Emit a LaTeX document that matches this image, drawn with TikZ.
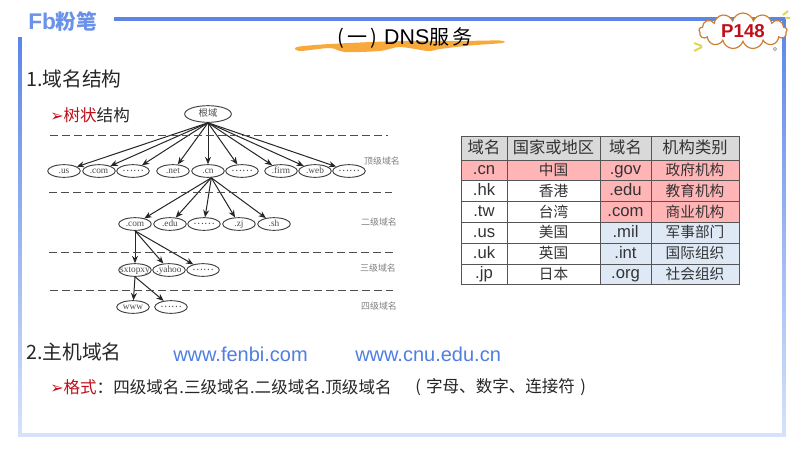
\documentclass[tikz,border=0pt]{standalone}
\usepackage{fontspec}
\setmainfont{Noto Sans CJK SC}
\newfontfamily\cjkfont{Noto Sans CJK SC}
\newfontfamily\latinfont{Liberation Sans}
\newfontfamily\treefont{Liberation Serif}
\newfontfamily\symfont{DejaVu Sans}
\usepackage{tikz}
\usetikzlibrary{arrows.meta, shapes.geometric, shapes.symbols}
\definecolor{framebluea}{HTML}{5B86E8}
\definecolor{frameblueb}{HTML}{D6E2FB}
\definecolor{brushorange}{HTML}{F7A93B}
\definecolor{headred}{HTML}{C00D1A}
\definecolor{urlblue}{HTML}{4F7FE2}
\definecolor{tabpink}{HTML}{FFB4B6}
\definecolor{tabblue}{HTML}{DFE9F5}
\definecolor{tabgray}{HTML}{D9D9D9}
\definecolor{tabline}{HTML}{555555}
\definecolor{tickyellow}{HTML}{DDD64F}
\newcommand{\fsize}[1]{\fontsize{#1}{#1}\selectfont}
\newcommand{\redmark}{{\symfont\fsize{12}\color{headred}➢}}
\tikzset{
	domainbox/.style = {ellipse, draw = black!75, line width = 0.7pt, fill = white, inner sep = 0pt, minimum width = 24.5pt, minimum height = 9.5pt, text height = 4.5pt, text depth = 1.5pt, font = \treefont\fsize{7}, text = black!70},
	treeedge/.style = {-{Stealth[length = 5.5pt, width = 4.5pt]}, draw = black!85, line width = 0.75pt},
	levelsep/.style = {draw = black!70, line width = 0.75pt, dash pattern = on 6pt off 3pt},
	levellabel/.style = {font = \fsize{6.7}, text = black!50},
	headline/.style = {anchor = west, inner sep = 0pt, font = \fsize{14.8}, text = black!85},
	subline/.style = {anchor = west, inner sep = 0pt, font = \fsize{12.4}, text = black!85},
	urltext/.style = {anchor = west, inner sep = 0pt, font = \latinfont\fsize{15}, text = urlblue},
	tabcell/.style = {font = \fsize{11}, text height = 9pt, text depth = 1.5pt, text = black!80},
	tabhead/.style = {font = \fsize{12.2}, text height = 10pt, text depth = 1.5pt, text = black!80},
	latincell/.style = {font = \latinfont\fsize{12.5}, text height = 9pt, text depth = 2.5pt, text = black!80}
}
\begin{document}
\begin{tikzpicture}[x = 0.75pt, y = -0.75pt]
		\def\dotsmark{\raisebox{0.8pt}{\cjkfont\fsize{7.5}……}};
		\useasboundingbox (0,0) rectangle (800,450);
		\fill [white] (0,0) rectangle (800,450);

		\fill [framebluea] (114,17.2) rectangle (785.5,20.8);
		\shade [top color = framebluea, bottom color = frameblueb] (18.2,37) rectangle (21.8,436);
		\shade [top color = framebluea, bottom color = frameblueb] (782.2,20) rectangle (785.8,436);
		\fill [frameblueb] (18.2,432.5) rectangle (785.8,436.5);

		\node [anchor = west, inner sep = 0pt, text = framebluea!90] (logo) at (28,22) {\latinfont\bfseries\fsize{17}Fb\cjkfont\bfseries\fsize{15.5}粉笔};

		\fill [brushorange] plot [smooth cycle] coordinates {(297,47) (330,44) (400,41) (460,41) (500,40.5) (502,43) (470,45.5) (440,49) (428,51) (400,47) (380,51) (345,52) (330,48) (300,51)};
		\node [inner sep = 0pt, font = \fsize{15}] (title) at (405,38) {(\,一\,)\,\,{\latinfont\fsize{16}DNS}服\,务};

		\node [cloud, cloud puffs = 13, cloud puff arc = 150, aspect = 3, draw = brown!80!orange, line width = 0.9pt, fill = white, inner sep = 0pt, minimum width = 66pt, minimum height = 27pt] (badge) at (743,31) {};
		\node [inner sep = 0pt, font = \latinfont\bfseries\fsize{14}, text = headred] (pagenum) at (743,31) {P148};
		\draw [tickyellow, line width = 1.4pt] (694,43) -- (702,46) (694,51) -- (702,47) (783,15) -- (788,11) (785,18) -- (790,18);
		\draw [black!40, line width = 0.5pt] (775,49) circle (1.6);

		\node [headline] (first) at (26,79) {1.域名结构};
		\node [subline] (treehead) at (50,115) {\redmark{\color{headred}树状}结构};

		\node [domainbox, minimum width = 35pt, minimum height = 12.5pt, font = \cjkfont\fsize{7}] (root) at (208,114) {根域};
		\foreach \name/\x/\txt in {us/64/.us, comtop/99/.com, dotsa/133/\dotsmark, net/173/.net, cn/208/.cn, dotsb/242/\dotsmark, firm/281/.firm, web/315/.web, dotsc/349/\dotsmark}
			\node [domainbox] (\name) at (\x,171) {\makebox[10pt]{\txt}};
		\foreach \name/\x/\txt in {comsec/135/.com, edu/170/.edu, dotsd/204/\dotsmark, zj/239/.zj, sh/274/.sh}
			\node [domainbox] (\name) at (\x,224) {\makebox[10pt]{\txt}};
		\foreach \name/\x/\txt in {sxtopxy/135/sxtopxy, yahoo/169/.yahoo, dotse/203/\dotsmark}
			\node [domainbox] (\name) at (\x,270) {\makebox[10pt]{\txt}};
		\foreach \name/\x/\txt in {www/133/www, dotsf/171/\dotsmark}
			\node [domainbox] (\name) at (\x,307) {\makebox[10pt]{\txt}};

		\foreach \a/\b in {root/us, root/comtop, root/dotsa, root/net, root/cn, root/dotsb, root/firm, root/web, root/dotsc, comsec/sxtopxy, comsec/yahoo, comsec/dotse, sxtopxy/www, sxtopxy/dotsf}
			\draw [treeedge] (\a.south) -- (\b);
		\foreach \b in {comsec, edu, dotsd, zj, sh}
			\draw [treeedge] ([xshift = 2.5pt]cn.south) -- (\b);

		\foreach \y/\xa/\xb in {135/50/388, 192/49/392, 252/49/393, 290/50/393}
			\draw [levelsep] (\xa,\y) -- (\xb,\y);

		\node [levellabel] (leveltop) at (382,161) {顶级域名};
		\node [levellabel] (levelsec) at (379,222) {二级域名};
		\node [levellabel] (levelthird) at (378,268) {三级域名};
		\node [levellabel] (levelfourth) at (379,306) {四级域名};

		\fill [tabgray] (461,136) rectangle (739,160);
		\foreach \y/\ca/\cb/\cc/\cd/\fa/\fb in {
			170.5/.cn/中国/.gov/政府机构/tabpink/tabpink,
			191.3/.hk/香港/.edu/教育机构/white/tabpink,
			212.1/.tw/台湾/.com/商业机构/white/tabpink,
			232.9/.us/美国/.mil/军事部门/white/tabblue,
			253.7/.uk/英国/.int/国际组织/white/tabblue,
			274.5/.jp/日本/.org/社会组织/white/tabblue}
		{
			\fill [\fa] (461,\y-10.4) rectangle (600,\y+10.4);
			\fill [\fb] (600,\y-10.4) rectangle (739,\y+10.4);
			\node [latincell] (a\ca) at (484,\y) {\ca};
			\node [tabcell] (b\ca) at (553.5,\y) {\cb};
			\node [latincell] (c\ca) at (625.5,\y) {\cc};
			\node [tabcell] (d\ca) at (695,\y) {\cd};
		}
		\node [tabhead] (heada) at (484,148) {域名};
		\node [tabhead] (headb) at (553.5,148) {国家或地区};
		\node [tabhead] (headc) at (625.5,148) {域名};
		\node [tabhead] (headd) at (695,148) {机构类别};
		\foreach \y in {136,160,180.9,201.7,222.5,243.3,264.1,284.9}
			\draw [tabline, line width = 0.7pt] (461,\y) -- (739,\y);
		\foreach \x in {461,507,600,651,739}
			\draw [tabline, line width = 0.7pt] (\x,136) -- (\x,284.9);

		\node [headline] (second) at (26,352) {2.主机域名};
		\node [urltext] (urla) at (173,354) {www.fenbi.com};
		\node [urltext] (urlb) at (355,354) {www.cnu.edu.cn};
		\node [subline] (format) at (50,387) {\redmark{\color{headred}格式}：四级域名.三级域名.二级域名.顶级域名};
		\node [subline] (formatnote) at (415,387) {(\hspace{4pt}字母、数字、连接符\hspace{4pt})};
	\end{tikzpicture}
\end{document}
